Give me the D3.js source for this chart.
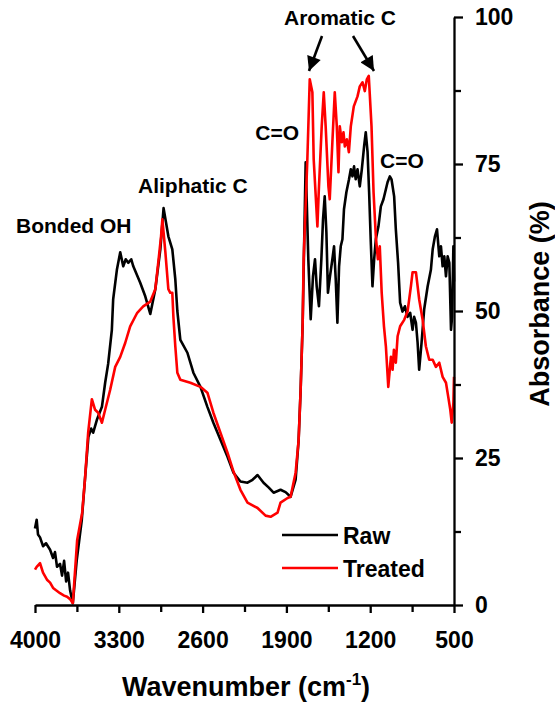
<!DOCTYPE html>
<html><head><meta charset="utf-8">
<script src="https://cdn.jsdelivr.net/npm/d3@7"></script>
<style>
body{margin:0;background:#fff;}
svg{display:block;font-family:"Liberation Sans",Arial,Helvetica,sans-serif;font-weight:bold;}
</style>
</head><body>
<svg id="chart" width="555" height="703"></svg>
<script>
const xTickValues = [4000, 3300, 2600, 1900, 1200, 500];
const xMinorTicks = [3650, 2950, 2250, 1550, 850];
const yTickValues = [0, 25, 50, 75, 100];
const yMinorTicks = [12.5, 37.5, 62.5, 87.5];
const seriesNames = ["Raw", "Treated"];
const seriesColors = ["#000000", "#ff0000"];

const rawWavenumber = [4000,3986,3975,3958,3933,3908,3874,3849,3833,3816,
3791,3774,3757,3740,3724,3707,3684,3651,3609,3581,
3554,3531,3514,3483,3441,3414,3389,3358,3347,3316,
3288,3263,3242,3221,3196,3179,3121,3079,3037,2995,
2953,2926,2886,2853,2828,2811,2786,2727,2677,2618,
2560,2510,2451,2392,2342,2284,2225,2183,2141,2091,
2049,2007,1949,1907,1865,1823,1798,1781,1764,1753,
1739,1717,1697,1678,1661,1647,1628,1608,1594,1580,
1566,1553,1536,1516,1502,1488,1474,1460,1446,1432,
1419,1399,1377,1362,1348,1335,1321,1306,1287,1270,
1251,1237,1222,1209,1195,1181,1167,1153,1131,1111,
1089,1069,1055,1036,1022,1000,986,967,950,930,
910,888,866,846,833,818,804,791,771,749,
720,693,678,659,642,623,609,595,581,567,
553,539,525,516,505,500];
const rawAbsorbance = [13,14.5,12,11.5,10,10.5,9.4,8,9,6.5,
7,5,7.5,4,5.5,2.5,0.3,7.7,14.5,21.8,
28.6,30,29.3,31.5,33.7,37.8,41,46.8,52,57,
60,57.6,58.8,58.2,58.8,57.6,54.8,52.5,49.5,53.7,
60.5,67.5,62.7,60.5,55.4,50,45.1,42.9,39.5,37.1,
33.7,31,28.1,25.2,22.5,21,20.8,21.3,22.1,20.8,
20,19.1,19.6,19.2,18.4,21.3,28,36.6,48,60,
75.3,58.8,48.6,55.9,58.8,54.2,50.8,58.8,65.6,69.5,
63.4,53.1,55.9,58.8,61,55.4,48,57.6,61,62.2,
67.3,70.2,72.4,74.1,72.9,74.6,72.4,74.1,71.2,74.1,
78,80.4,77,70.2,61.7,54.2,58.8,62.2,64.4,67.8,
69,70.7,71.9,72.9,72.4,69.5,63.9,58.2,51.4,49.9,
50.8,49,49.7,46.8,49,48,44.6,40,44.6,50.3,
54.2,57,60.5,62.7,63.9,59.3,61,57.6,59.3,55.9,
59.3,58.2,46.8,49,61,55];

const treatedWavenumber = [4000,3986,3958,3933,3900,3874,3849,3824,3791,3757,
3732,3707,3684,3648,3606,3581,3556,3525,3498,3472,
3441,3414,3372,3330,3288,3246,3205,3146,3096,3037,
2995,2970,2947,2936,2911,2886,2870,2853,2844,2828,
2811,2786,2702,2618,2560,2510,2451,2392,2342,2284,
2225,2141,2074,2032,1974,1949,1890,1865,1823,1798,
1781,1764,1756,1725,1705,1683,1672,1641,1630,1605,
1588,1572,1549,1538,1516,1496,1479,1465,1454,1437,
1423,1412,1395,1378,1362,1337,1306,1287,1264,1245,
1228,1212,1189,1172,1153,1136,1120,1104,1085,1069,
1049,1027,1013,1002,986,971,950,916,888,860,
846,818,791,762,735,707,678,651,623,595,
567,548,531,519,505,500];
const treatedAbsorbance = [6,6.5,7.1,5.5,4.3,3.8,2.9,2.5,2,1.6,
1.4,1,0.3,11,15.7,21.8,29.3,35,33.2,32.7,
31,33.2,36.6,40.5,42.2,44.6,47.4,49.7,50.8,51.6,
53.7,58.3,62.7,65.6,60,53.7,53.1,53.1,49,44,
39.5,38.3,37.8,37.1,36.1,32.7,29.3,25.9,22.7,19.6,
17.4,16.5,15.2,15,15.7,17.4,18.2,18.4,22.5,28,
36.6,48,58.8,75.8,89.4,87.2,75.8,64.4,70.2,81.4,
87.2,81.4,71.2,69,78.7,87.2,81.4,73.6,81.4,78.7,
80.4,78,79.2,77,81.4,84.8,86.5,88.2,88.9,87.4,
89.4,90,81.4,70.2,62.7,58.8,61,53.1,47.4,44,
37.1,42.2,40,43.4,41.2,45.7,47.4,48.5,49.9,54.2,
56.6,56.6,52,48.5,44,41.7,41.7,40.5,41.2,38.8,
37.8,35.4,33.2,31,34.4,38.8];

const svg = d3.select("#chart");
const x = d3.scaleLinear().domain([4000, 500]).range([35, 454]);
const y = d3.scaleLinear().domain([0, 100]).range([605, 17]);

const series = [
  d3.zip(rawWavenumber, rawAbsorbance),
  d3.zip(treatedWavenumber, treatedAbsorbance)
];
const line = d3.line().x(d => x(d[0])).y(d => y(d[1]));

series.forEach((s, i) => {
  svg.append("path").datum(s)
    .attr("fill", "none")
    .attr("stroke", seriesColors[i])
    .attr("stroke-width", 2.6)
    .attr("stroke-linejoin", "round")
    .attr("d", line);
});

// axes
svg.append("g").attr("transform", "translate(0,605)")
  .call(d3.axisBottom(x).tickValues(xTickValues).tickSize(8).tickSizeOuter(0).tickPadding(19).tickFormat(d3.format("d")));
svg.append("g").attr("transform", "translate(0,605)")
  .call(d3.axisBottom(x).tickValues(xMinorTicks).tickSize(7).tickSizeOuter(0).tickFormat(""))
  .select(".domain").remove();
svg.append("g").attr("transform", "translate(454,0)")
  .call(d3.axisRight(y).tickValues(yTickValues).tickSize(9).tickSizeOuter(0).tickPadding(12));
svg.append("g").attr("transform", "translate(454,0)")
  .call(d3.axisRight(y).tickValues(yMinorTicks).tickSize(7).tickSizeOuter(0).tickFormat(""))
  .select(".domain").remove();

svg.selectAll(".domain, .tick line").attr("stroke", "#000").attr("stroke-width", 2.3);
svg.selectAll(".tick text")
  .attr("fill", "#000")
  .style("font-family", '"Liberation Sans",Arial,sans-serif')
  .style("font-weight", "bold")
  .style("font-size", "23px");

// axis titles
const xt = svg.append("text").attr("x", 246).attr("y", 696)
  .attr("text-anchor", "middle").style("font-size", "27px");
xt.append("tspan").text("Wavenumber (cm");
xt.append("tspan").attr("dy", -11).style("font-size", "17px").text("-1");
xt.append("tspan").attr("dy", 11).text(")");

svg.append("text").attr("transform", "translate(549,304) rotate(-90)")
  .attr("text-anchor", "middle").style("font-size", "27px")
  .text("Absorbance (%)");

// annotations
const ann = [
  {t: "Bonded OH", x: 16, y: 233, a: "start"},
  {t: "Aliphatic C", x: 138, y: 193, a: "start"},
  {t: "Aromatic C", x: 340, y: 25, a: "middle"},
  {t: "C=O", x: 299, y: 140, a: "end"},
  {t: "C=O", x: 380, y: 168, a: "start"}
];
ann.forEach(d => svg.append("text").attr("x", d.x).attr("y", d.y)
  .attr("text-anchor", d.a).style("font-size", "21px").text(d.t));

svg.append("defs").append("marker").attr("id", "ah")
  .attr("viewBox", "0 0 10 10").attr("refX", 10).attr("refY", 5)
  .attr("markerWidth", 6).attr("markerHeight", 5.5).attr("markerUnits", "strokeWidth")
  .attr("orient", "auto")
  .append("path").attr("d", "M0,0L10,5L0,10Z").attr("fill", "#000");
[[322, 36, 309, 71], [353, 36, 374, 71]].forEach(a => {
  svg.append("line").attr("x1", a[0]).attr("y1", a[1]).attr("x2", a[2]).attr("y2", a[3])
    .attr("stroke", "#000").attr("stroke-width", 2.6).attr("marker-end", "url(#ah)");
});

// legend
seriesNames.forEach((n, i) => {
  const ly = 535 + i * 33;
  svg.append("line").attr("x1", 282).attr("x2", 338).attr("y1", ly).attr("y2", ly)
    .attr("stroke", seriesColors[i]).attr("stroke-width", 2.6);
  svg.append("text").attr("x", 343).attr("y", ly + 9).style("font-size", "23px").text(n);
});
</script>
</body></html>
